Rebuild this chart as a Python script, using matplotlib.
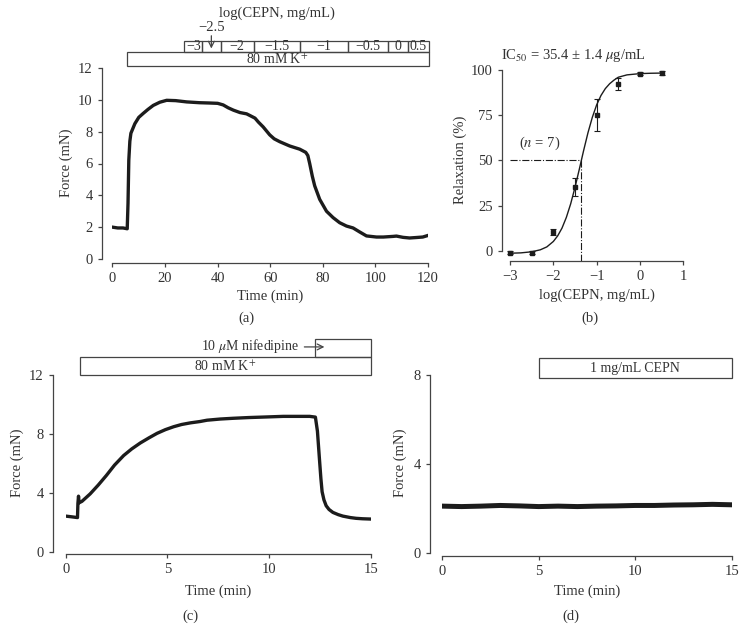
import matplotlib
matplotlib.use('Agg')
import matplotlib.pyplot as plt
from matplotlib.patches import Rectangle

plt.rcParams['font.family'] = ['Liberation Serif', 'DejaVu Serif']
plt.rcParams['mathtext.fontset'] = 'stix'
plt.rcParams['font.size'] = 10.5

TXT = '#333333'
AXC = '#444444'
TRACE = '#1c1c1c'

# ---- panel (a): cumulative CEPN on 80 mM K+ contraction ----
a_time = [0, 2, 4, 5.6, 5.9, 6.2, 6.6, 7.0, 7.5, 8.5, 10, 11.7, 13.5, 15.5, 18,
          20.6, 24, 28.2, 33, 37, 40, 42.1, 44, 46, 48.5, 51, 52.2, 54.2, 55.5,
          57.3, 59.8, 61.5, 63.6, 67.4, 71.2, 73.5, 74.3, 75, 76, 76.9, 78.8,
          81.4, 83.9, 86.4, 89, 91.5, 94, 96.6, 100.4, 103, 106.7, 108, 110.5,
          113, 115.6, 118, 120]
a_force = [2.0, 1.95, 1.95, 1.9, 3.5, 6.2, 7.4, 7.9, 8.1, 8.5, 8.9, 9.15, 9.4,
           9.65, 9.85, 9.97, 9.95, 9.87, 9.82, 9.8, 9.78, 9.68, 9.5, 9.35, 9.2,
           9.12, 9.02, 8.85, 8.6, 8.3, 7.8, 7.55, 7.37, 7.1, 6.9, 6.7, 6.5, 6.0,
           5.2, 4.6, 3.75, 3.0, 2.6, 2.28, 2.07, 1.95, 1.7, 1.45, 1.38, 1.38,
           1.42, 1.44, 1.36, 1.32, 1.35, 1.38, 1.48]
dose_edges = [27.3, 34.1, 41.1, 53.8, 71.2, 89.4, 104.8, 112.4, 120.2]
dose_labels = ['−3', '', '−2', '−1.5', '−1', '−0.5', '0', '0.5']
k_start_a = 5.4

# ---- panel (b): concentration-response ----
b_logc = [-3, -2.5, -2, -1.5, -1, -0.5, 0, 0.5]
b_relax = [-1, -1, 10.3, 35, 75, 92.3, 98, 98.5]
b_err = [0.6, 0.6, 1.5, 5, 9, 3.3, 1, 1]
fit_x = [-3.0, -2.75, -2.5, -2.3, -2.15, -2.0, -1.9, -1.8, -1.7, -1.6, -1.5,
         -1.4, -1.3, -1.2, -1.1, -1.0, -0.9, -0.8, -0.7, -0.6, -0.5, -0.3, 0.0,
         0.25, 0.5]
fit_y = [-1.4, -1.2, -0.6, 0.5, 2.1, 5.1, 8.2, 12.5, 18.4, 25.9, 35.0, 45.1,
         55.5, 65.3, 73.8, 80.7, 85.9, 89.7, 92.4, 94.4, 96.0, 97.3, 98.0, 98.2,
         98.3]
ic50_log = -1.37

# ---- panel (c): nifedipine on 80 mM K+ ----
c_time = [0, 0.3, 0.58, 0.6, 0.63, 0.66, 0.8, 1.2, 1.6, 2.0, 2.4, 2.85, 3.25,
          3.67, 4.1, 4.49, 4.9, 5.31, 5.7, 6.13, 6.6, 6.95, 7.6, 8.23, 9.0,
          9.87, 10.7, 11.5, 12.0, 12.28, 12.38, 12.48, 12.55, 12.61, 12.7,
          12.81, 12.95, 13.14, 13.4, 13.63, 14.0, 14.28, 14.6, 15.0]
c_force = [2.45, 2.4, 2.35, 3.3, 3.8, 3.35, 3.45, 3.95, 4.55, 5.2, 5.9, 6.55,
           7.0, 7.4, 7.75, 8.05, 8.3, 8.5, 8.65, 8.76, 8.85, 8.94, 9.02, 9.07,
           9.12, 9.16, 9.2, 9.2, 9.2, 9.15, 8.2, 6.3, 5.0, 4.1, 3.55, 3.15, 2.9,
           2.7, 2.55, 2.45, 2.35, 2.3, 2.27, 2.25]
k_start_c = 0.7
nif_start = 12.26

# ---- panel (d): CEPN alone ----
d_time = [0, 1, 2, 3, 4, 5, 6, 7, 8, 9, 10, 11, 12, 13, 14, 15]
d_force = [2.12, 2.1, 2.12, 2.15, 2.13, 2.1, 2.12, 2.1, 2.12, 2.13, 2.15, 2.15,
           2.17, 2.18, 2.2, 2.18]
cepn_start = 5.0

W, H = 746, 631
fig = plt.figure(figsize=(W / 100, H / 100), dpi=100)


def px_axes(x0, y0, x1, y1):
    # pixel box (left, top of data, right, bottom of data) -> axes
    return fig.add_axes([x0 / W, 1 - y1 / H, (x1 - x0) / W, (y1 - y0) / H])


def ftext(x, y, s, **kw):
    kw.setdefault('ha', 'center')
    kw.setdefault('va', 'center')
    kw.setdefault('color', TXT)
    fig.text(x / W, 1 - y / H, s, **kw)


def style(ax, left_out, bottom_out):
    for s in ['top', 'right']:
        ax.spines[s].set_visible(False)
    for s in ['left', 'bottom']:
        ax.spines[s].set_color(AXC)
        ax.spines[s].set_linewidth(0.9)
    ax.spines['left'].set_position(('outward', left_out * 0.72))
    ax.spines['bottom'].set_position(('outward', bottom_out * 0.72))
    ax.tick_params(direction='out', length=3, width=0.9, color=AXC,
                   labelcolor=TXT, labelsize=10.5, pad=3.5)


def box(ax, x0, x1, y0, y1, label=None, fs=10):
    ax.add_patch(Rectangle((x0, y0), x1 - x0, y1 - y0, fill=False,
                           ec=AXC, lw=0.9, clip_on=False))
    if label:
        ax.text((x0 + x1) / 2, (y0 + y1) / 2, label, ha='center', va='center',
                fontsize=fs, color=TXT, clip_on=False)


# (a)
ax = px_axes(112.5, 68, 428, 259)
ax.plot(a_time, a_force, color=TRACE, lw=2.4)
ax.set_xlim(0, 120)
ax.set_ylim(0, 12)
ax.set_xticks([0, 20, 40, 60, 80, 100, 120])
ax.set_yticks([0, 2, 4, 6, 8, 10, 12])
style(ax, 10.8, 3.7)
box(ax, k_start_a, dose_edges[-1], 12.11, 12.99, '80 mM K$^{+}$')
for i, lab in enumerate(dose_labels):
    box(ax, dose_edges[i], dose_edges[i + 1], 12.99, 13.68, lab)
mid = (dose_edges[1] + dose_edges[2]) / 2
ax.annotate('', xy=(mid, 13.05), xytext=(mid, 14.2), annotation_clip=False,
            arrowprops=dict(arrowstyle='->', color=AXC, lw=0.9))
ax.text(mid, 14.55, '−2.5', ha='center', va='center', color=TXT,
        fontsize=10.5, clip_on=False)
ftext(276.7, 13, 'log(CEPN, mg/mL)')
ftext(66.7, 163, 'Force (mN)', rotation=90)
ftext(270, 296.7, 'Time (min)')
ftext(246.7, 318, '(a)')

# (b)
ax = px_axes(510, 70, 683.3, 250.7)
ax.plot(fit_x, fit_y, color=TRACE, lw=1.0, clip_on=False)
ax.errorbar(b_logc, b_relax, yerr=b_err, fmt='s', ms=3.0, color=TRACE,
            ecolor=TRACE, elinewidth=0.8, capsize=2, capthick=0.8,
            clip_on=False)
ax.plot([-3, ic50_log], [50, 50], color=TRACE, lw=0.8, ls='-.', clip_on=False)
ax.plot([ic50_log, ic50_log], [50, -5.5], color=TRACE, lw=0.8, ls='-.',
        clip_on=False)
ax.set_xlim(-3, 1)
ax.set_ylim(0, 100)
ax.set_xticks([-3, -2, -1, 0, 1])
ax.set_yticks([0, 25, 50, 75, 100])
style(ax, 8.3, 10)
ax.text(-2.31, 59.4, '($n$ = 7)', ha='center', va='center', color=TXT,
        fontsize=10.5)
ftext(573.3, 55, 'IC$_{50}$ = 35.4 ± 1.4 $\\mu$g/mL')
ftext(460.7, 160, 'Relaxation (%)', rotation=90)
ftext(597, 295, 'log(CEPN, mg/mL)')
ftext(590, 318, '(b)')

# (c)
ax = px_axes(65.7, 375, 370.7, 552.3)
ax.plot(c_time, c_force, color=TRACE, lw=2.4)
ax.set_xlim(0, 15)
ax.set_ylim(0, 12)
ax.set_xticks([0, 5, 10, 15])
ax.set_yticks([0, 4, 8, 12])
style(ax, 13, 2)
box(ax, k_start_c, 15, 11.98, 13.2, '80 mM K$^{+}$')
box(ax, nif_start, 15, 13.2, 14.41)
ax.annotate('', xy=(12.86, 13.9), xytext=(11.6, 13.9), annotation_clip=False,
            arrowprops=dict(arrowstyle='->', color=AXC, lw=0.9))
ax.text(11.5, 13.95, '10 $\\mu$M nifedipine', ha='right', va='center',
        color=TXT, fontsize=10, clip_on=False)
ftext(17, 463, 'Force (mN)', rotation=90)
ftext(218, 591.7, 'Time (min)')
ftext(190, 616, '(c)')

# (d)
ax = px_axes(442.3, 375.3, 731.7, 553.3)
ax.plot(d_time, d_force, color=TRACE, lw=3.6)
ax.set_xlim(0, 15)
ax.set_ylim(0, 8)
ax.set_xticks([0, 5, 10, 15])
ax.set_yticks([0, 4, 8])
style(ax, 12.3, 2.7)
box(ax, cepn_start, 15, 7.87, 8.76, '1 mg/mL CEPN')
ftext(400, 463, 'Force (mN)', rotation=90)
ftext(587, 591.7, 'Time (min)')
ftext(571, 616, '(d)')

fig.savefig('out.png', dpi=100, facecolor='white')
